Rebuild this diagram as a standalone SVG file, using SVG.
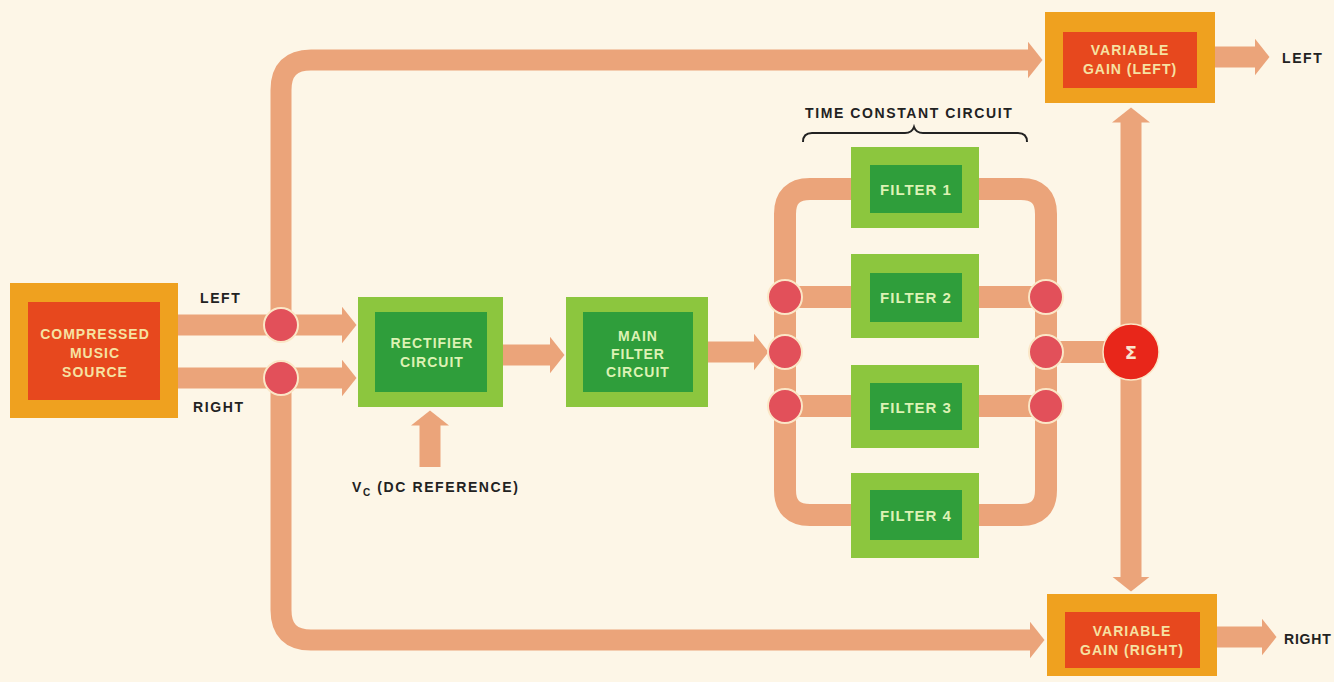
<svg xmlns="http://www.w3.org/2000/svg" width="1334" height="682" viewBox="0 0 1334 682">
<defs>
<marker id="ah" markerUnits="userSpaceOnUse" markerWidth="16" markerHeight="40" viewBox="0 0 16 40" refX="0.5" refY="20" orient="auto-start-reverse">
<path d="M0,1 L15,20 L0,39 z" fill="#EBA47A"/>
</marker>
<style>
.bg{fill:#FDF6E7}
.band{fill:none;stroke:#EBA47A;stroke-width:22}
.arr{fill:none;stroke:#EBA47A;stroke-width:21;marker-end:url(#ah)}
.oo{fill:#EFA11F}
.oi{fill:#E7481E}
.go{fill:#8CC63E}
.gi{fill:#2F9E3B}
.jn{fill:#E2505A;stroke:#FBE6C6;stroke-width:2}
.tw{font-family:"Liberation Sans",Arial,sans-serif;font-weight:bold;font-size:14px;letter-spacing:1px;text-anchor:middle;fill:#F6E2A2}
.tg{font-family:"Liberation Sans",Arial,sans-serif;font-weight:bold;font-size:14px;letter-spacing:1px;text-anchor:middle;fill:#DDF2B4}
.tf{font-family:"Liberation Sans",Arial,sans-serif;font-weight:bold;font-size:15px;letter-spacing:1px;text-anchor:middle;fill:#DDF2B4}
.tk{font-family:"Liberation Sans",Arial,sans-serif;font-weight:bold;font-size:14px;letter-spacing:1.6px;fill:#222}
</style>
</defs>
<rect class="bg" x="0" y="0" width="1334" height="682"/>

<g id="connectors">
<path class="arr" d="M178,325 L342,325"/>
<path class="arr" d="M178,378 L342,378"/>
<path class="arr" d="M281,325 L281,90 Q281,60 311,60 L1028,60"/>
<path class="arr" d="M281,378 L281,610 Q281,640 311,640 L1030,640"/>
<path class="arr" d="M503,355 L550,355"/>
<path class="arr" d="M708,352 L754,352"/>
<path class="arr" d="M430,467 L430,425"/>
<path class="band" d="M851,189 L810,189 Q785,189 785,214 L785,490 Q785,515 810,515 L851,515"/>
<path class="band" d="M979,189 L1021,189 Q1046,189 1046,214 L1046,490 Q1046,515 1021,515 L979,515"/>
<path class="band" d="M785,297 L851,297 M785,406 L851,406 M979,297 L1046,297 M979,406 L1046,406 M1046,352 L1105,352"/>
<path class="arr" d="M1131,122 L1131,577" style="marker-start:url(#ah)"/>
<path class="arr" d="M1215,57 L1255,57"/>
<path class="arr" d="M1217,637 L1262,637"/>
</g>

<g id="compressed-music-source">
<rect class="oo" x="10" y="283" width="168" height="135"/>
<rect class="oi" x="28" y="302" width="132" height="98"/>
<text class="tw" x="95" y="339">COMPRESSED</text>
<text class="tw" x="95" y="358">MUSIC</text>
<text class="tw" x="95" y="377">SOURCE</text>
</g>

<g id="label-left-in"><text class="tk" x="200" y="303">LEFT</text></g>
<g id="label-right-in"><text class="tk" x="193" y="412">RIGHT</text></g>

<g id="rectifier-circuit">
<rect class="go" x="358" y="297" width="145" height="110"/>
<rect class="gi" x="375" y="312" width="112" height="80"/>
<text class="tg" x="432" y="348">RECTIFIER</text>
<text class="tg" x="432" y="367">CIRCUIT</text>
</g>

<g id="vc-label">
<text class="tk" x="352" y="492">V<tspan font-size="10" dy="4">C</tspan><tspan dy="-4"> (DC REFERENCE)</tspan></text>
</g>

<g id="main-filter-circuit">
<rect class="go" x="566" y="297" width="142" height="110"/>
<rect class="gi" x="583" y="312" width="110" height="80"/>
<text class="tg" x="638" y="341">MAIN</text>
<text class="tg" x="638" y="359">FILTER</text>
<text class="tg" x="638" y="377">CIRCUIT</text>
</g>

<g id="time-constant-circuit">
<text class="tk" x="805" y="118">TIME CONSTANT CIRCUIT</text>
<path d="M803,142 Q803,133 812,133 L905,133 Q912,133 914,127 Q916,133 923,133 L1018,133 Q1027,133 1027,142" fill="none" stroke="#222" stroke-width="2"/>
</g>

<g id="filter-1">
<rect class="go" x="851" y="147" width="128" height="81"/>
<rect class="gi" x="870" y="165" width="92" height="48"/>
<text class="tf" x="916" y="195">FILTER 1</text>
</g>
<g id="filter-2">
<rect class="go" x="851" y="254" width="128" height="84"/>
<rect class="gi" x="870" y="273" width="92" height="49"/>
<text class="tf" x="916" y="303">FILTER 2</text>
</g>
<g id="filter-3">
<rect class="go" x="851" y="365" width="128" height="83"/>
<rect class="gi" x="870" y="383" width="92" height="47"/>
<text class="tf" x="916" y="413">FILTER 3</text>
</g>
<g id="filter-4">
<rect class="go" x="851" y="473" width="128" height="85"/>
<rect class="gi" x="870" y="490" width="92" height="50"/>
<text class="tf" x="916" y="521">FILTER 4</text>
</g>

<g id="junction-left-in"><circle class="jn" cx="281" cy="325" r="17"/></g>
<g id="junction-right-in"><circle class="jn" cx="281" cy="378" r="17"/></g>
<g id="junction-l1"><circle class="jn" cx="785" cy="297" r="17"/></g>
<g id="junction-l2"><circle class="jn" cx="785" cy="352" r="17"/></g>
<g id="junction-l3"><circle class="jn" cx="785" cy="406" r="17"/></g>
<g id="junction-r1"><circle class="jn" cx="1046" cy="297" r="17"/></g>
<g id="junction-r2"><circle class="jn" cx="1046" cy="352" r="17"/></g>
<g id="junction-r3"><circle class="jn" cx="1046" cy="406" r="17"/></g>

<g id="sum">
<circle cx="1131" cy="352" r="28" fill="#E8261A" stroke="#FBE6C6" stroke-width="1.5"/>
<text x="1131" y="359" font-family="'DejaVu Sans',sans-serif" font-weight="bold" font-size="18" text-anchor="middle" fill="#F8E6D0">Σ</text>
</g>

<g id="variable-gain-left">
<rect class="oo" x="1045" y="12" width="170" height="91"/>
<rect class="oi" x="1063" y="32" width="134" height="56"/>
<text class="tw" x="1130" y="55">VARIABLE</text>
<text class="tw" x="1130" y="74">GAIN (LEFT)</text>
</g>
<g id="label-left-out"><text class="tk" x="1282" y="63">LEFT</text></g>

<g id="variable-gain-right">
<rect class="oo" x="1047" y="594" width="170" height="82"/>
<rect class="oi" x="1065" y="612" width="135" height="56"/>
<text class="tw" x="1132" y="636">VARIABLE</text>
<text class="tw" x="1132" y="655">GAIN (RIGHT)</text>
</g>
<g id="label-right-out"><text class="tk" x="1284" y="644" style="letter-spacing:0.8px">RIGHT</text></g>
</svg>
